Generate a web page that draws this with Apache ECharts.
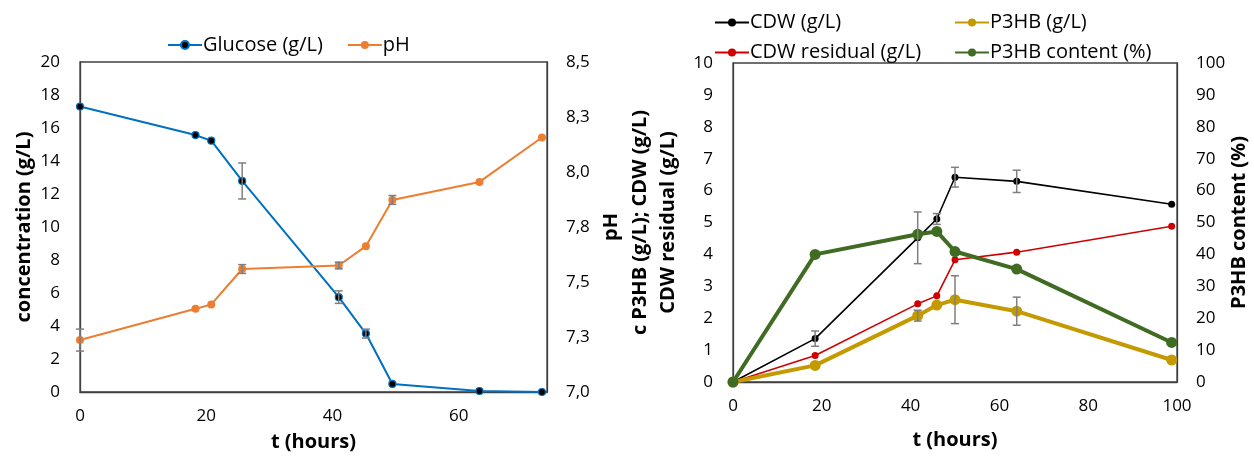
<!DOCTYPE html>
<html>
<head>
<meta charset="utf-8">
<script src="https://cdn.jsdelivr.net/npm/echarts@6/dist/echarts.min.js"></script>
<style>
  html, body { margin: 0; padding: 0; background: #fff; }
  #chart { width: 1254px; height: 457px; }
</style>
</head>
<body>
<div id="chart"></div>
<script>
// Fermentation run 1: glucose consumption and pH
const timeA = [0, 18.3, 20.8, 25.7, 41.0, 45.3, 49.5, 63.3, 73.2];
const glucose = [17.3, 15.57, 15.23, 12.79, 5.75, 3.54, 0.49, 0.06, 0.0];
const glucoseErr = [0, 0, 0, 1.09, 0.38, 0.27, 0, 0, 0];
const pH = [7.236, 7.378, 7.398, 7.559, 7.575, 7.663, 7.873, 7.955, 8.157];
const pHErr = [0.05, 0, 0, 0.02, 0.015, 0, 0.02, 0, 0];
const pHTickLabels = ['7,0', '7,3', '7,5', '7,8', '8,0', '8,3', '8,5'];

// Fermentation run 2: biomass and P3HB accumulation
const timeB = [0, 18.5, 41.6, 45.9, 50.0, 63.9, 98.8];
const cdw = [0, 1.36, 4.52, 5.11, 6.42, 6.29, 5.57];
const cdwErr = [0, 0.24, 0.81, 0.17, 0.31, 0.35, 0];
const cdwResidual = [0, 0.83, 2.45, 2.70, 3.83, 4.07, 4.88];
const p3hb = [0, 0.52, 2.08, 2.41, 2.58, 2.22, 0.69];
const p3hbErr = [0, 0, 0.17, 0, 0.75, 0.44, 0];
const p3hbContent = [0, 40.0, 46.3, 47.2, 40.9, 35.4, 12.4];

const FONT = 'Open Sans';
const AXIS_COLOR = '#404040';
const ERR_COLOR = '#7f7f7f';

const pairs = (xs, ys) => xs.map((x, i) => [x, ys[i]]);
const errRows = (xs, ys, es) => xs.map((x, i) => [x, ys[i], es[i]]).filter(r => r[2] > 0);

function errorBarSeries(rows, xAxisIndex, yAxisIndex) {
  return {
    type: 'custom',
    xAxisIndex, yAxisIndex,
    data: rows,
    z: 5,
    silent: true,
    renderItem(params, api) {
      const x = api.value(0), y = api.value(1), e = api.value(2);
      const hi = api.coord([x, y + e]);
      const lo = api.coord([x, y - e]);
      const cap = 4;
      const style = { stroke: ERR_COLOR, lineWidth: 1.5 };
      return {
        type: 'group',
        children: [
          { type: 'line', shape: { x1: hi[0], y1: hi[1], x2: lo[0], y2: lo[1] }, style },
          { type: 'line', shape: { x1: hi[0] - cap, y1: hi[1], x2: hi[0] + cap, y2: hi[1] }, style },
          { type: 'line', shape: { x1: lo[0] - cap, y1: lo[1], x2: lo[0] + cap, y2: lo[1] }, style }
        ]
      };
    }
  };
}

const tickLabel = { color: '#000', fontFamily: FONT, fontSize: 17 };
const titleStyle = { color: '#000', fontFamily: FONT, fontSize: 20, fontWeight: 'bold' };
const legendText = { fontFamily: FONT, fontSize: 20, color: '#000', padding: [0, 0, 0, -4] };

function valueAxis(extra) {
  return Object.assign({
    type: 'value',
    splitLine: { show: false },
    axisTick: { show: false },
    axisLine: { show: true, onZero: false, lineStyle: { color: AXIS_COLOR, width: 1.3 } },
    nameLocation: 'middle',
    nameTextStyle: titleStyle
  }, extra);
}

const chart = echarts.init(document.getElementById('chart'), null, { renderer: 'canvas' });

chart.setOption({
  backgroundColor: '#fff',
  animation: false,
  textStyle: { fontFamily: FONT },
  grid: [
    { left: 80, top: 62, width: 467, height: 330, show: true, borderColor: AXIS_COLOR, borderWidth: 1.3, backgroundColor: 'transparent' },
    { left: 733, top: 63, width: 444, height: 319, show: true, borderColor: AXIS_COLOR, borderWidth: 1.3, backgroundColor: 'transparent' }
  ],
  legend: [
    {
      data: ['Glucose (g/L)', 'pH'],
      left: 162, top: 30,
      itemWidth: 34, itemHeight: 10, itemGap: 24,
      textStyle: legendText
    },
    {
      data: ['CDW (g/L)', 'CDW residual (g/L)'],
      orient: 'vertical',
      left: 709, top: 6,
      itemWidth: 34, itemHeight: 10, itemGap: 7,
      textStyle: Object.assign({}, legendText, { height: 23, lineHeight: 23 })
    },
    {
      data: ['P3HB (g/L)', 'P3HB content (%)'],
      orient: 'vertical',
      left: 949, top: 6,
      itemWidth: 34, itemHeight: 10, itemGap: 7,
      textStyle: Object.assign({}, legendText, { height: 23, lineHeight: 23 })
    }
  ],
  xAxis: [
    valueAxis({
      gridIndex: 0, min: 0, max: 74, interval: 20,
      name: 't (hours)', nameGap: 40,
      axisLabel: Object.assign({ margin: 16, showMaxLabel: false }, tickLabel)
    }),
    valueAxis({
      gridIndex: 1, min: 0, max: 100, interval: 20,
      name: 't (hours)', nameGap: 48,
      axisLabel: Object.assign({ margin: 16 }, tickLabel)
    })
  ],
  yAxis: [
    valueAxis({
      gridIndex: 0, min: 0, max: 20, interval: 2,
      name: 'concentration (g/L)', nameGap: 46,
      axisLabel: Object.assign({ margin: 20 }, tickLabel)
    }),
    valueAxis({
      gridIndex: 0, position: 'right', min: 7, max: 8.5, interval: 0.25,
      name: 'pH', nameGap: 54, nameRotate: 90,
      axisLabel: Object.assign({
        margin: 19,
        formatter: v => pHTickLabels[Math.round((v - 7) / 0.25)]
      }, tickLabel)
    }),
    valueAxis({
      gridIndex: 1, min: 0, max: 10, interval: 1,
      name: 'c P3HB (g/L); CDW (g/L)\nCDW residual (g/L)', nameGap: 51,
      nameTextStyle: Object.assign({}, titleStyle, { lineHeight: 28 }),
      axisLabel: Object.assign({ margin: 20 }, tickLabel)
    }),
    valueAxis({
      gridIndex: 1, position: 'right', min: 0, max: 100, interval: 10,
      name: 'P3HB content (%)', nameGap: 48, nameRotate: 90,
      axisLabel: Object.assign({ margin: 19 }, tickLabel)
    })
  ],
  series: [
    {
      name: 'Glucose (g/L)', type: 'line', xAxisIndex: 0, yAxisIndex: 0,
      data: pairs(timeA, glucose),
      symbol: 'circle', symbolSize: 7,
      lineStyle: { color: '#0070C0', width: 2 },
      itemStyle: { color: '#000', borderColor: '#0070C0', borderWidth: 1.2 },
      z: 3
    },
    {
      name: 'pH', type: 'line', xAxisIndex: 0, yAxisIndex: 1,
      data: pairs(timeA, pH),
      symbol: 'circle', symbolSize: 8,
      lineStyle: { color: '#ED7D31', width: 2 },
      itemStyle: { color: '#ED7D31', borderWidth: 0 },
      z: 3
    },
    errorBarSeries(errRows(timeA, glucose, glucoseErr), 0, 0),
    errorBarSeries(errRows(timeA, pH, pHErr), 0, 1),
    {
      name: 'CDW (g/L)', type: 'line', xAxisIndex: 1, yAxisIndex: 2,
      data: pairs(timeB, cdw),
      symbol: 'circle', symbolSize: 7,
      lineStyle: { color: '#000', width: 1.6 },
      itemStyle: { color: '#000', borderWidth: 0 },
      z: 3
    },
    {
      name: 'CDW residual (g/L)', type: 'line', xAxisIndex: 1, yAxisIndex: 2,
      data: pairs(timeB, cdwResidual),
      symbol: 'circle', symbolSize: 7,
      lineStyle: { color: '#D00000', width: 1.6 },
      itemStyle: { color: '#D00000', borderWidth: 0 },
      z: 3
    },
    {
      name: 'P3HB (g/L)', type: 'line', xAxisIndex: 1, yAxisIndex: 2,
      data: pairs(timeB, p3hb),
      symbol: 'circle', symbolSize: 11,
      lineStyle: { color: '#C49A00', width: 4 },
      itemStyle: { color: '#C49A00', borderWidth: 0 },
      z: 3
    },
    {
      name: 'P3HB content (%)', type: 'line', xAxisIndex: 1, yAxisIndex: 3,
      data: pairs(timeB, p3hbContent),
      symbol: 'circle', symbolSize: 11,
      lineStyle: { color: '#3F6B22', width: 4 },
      itemStyle: { color: '#3F6B22', borderWidth: 0 },
      z: 3
    },
    errorBarSeries(errRows(timeB, cdw, cdwErr), 1, 2),
    errorBarSeries(errRows(timeB, p3hb, p3hbErr), 1, 2)
  ]
});
</script>
</body>
</html>
